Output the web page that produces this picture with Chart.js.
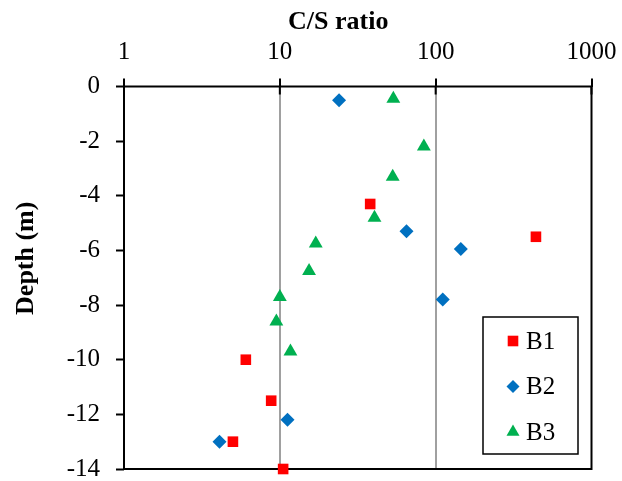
<!DOCTYPE html>
<html>
<head>
<meta charset="utf-8">
<script src="https://cdn.jsdelivr.net/npm/chart.js@4.4.1/dist/chart.umd.min.js"></script>
<style>
html,body{margin:0;padding:0;background:#fff;}
#wrap{width:622px;height:481px;}
</style>
</head>
<body>
<div id="wrap"><canvas id="c" width="622" height="481"></canvas></div>
<script>
// ---- data ----
const seriesNames = ['B1', 'B2', 'B3'];
const b1Ratio = [38, 440, 6.05, 8.8, 5.0, 10.5];
const b1Depth = [-4.3, -5.5, -10.0, -11.5, -13.0, -14.0];
const b2Ratio = [24, 65, 145, 111, 11.2, 4.1];
const b2Depth = [-0.5, -5.3, -5.95, -7.8, -12.2, -13.0];
const b3Ratio = [53.5, 84, 53, 40.5, 17, 15.4, 10, 9.5, 11.7];
const b3Depth = [-0.45, -2.2, -3.3, -4.8, -5.75, -6.75, -7.7, -8.6, -9.7];
const xTickValues = [1, 10, 100, 1000];
const yTickValues = [0, -2, -4, -6, -8, -10, -12, -14];
const xTitle = 'C/S ratio';
const yTitle = 'Depth (m)';

const colors = ['#FF0000', '#0070C0', '#00B050'];
const styles = ['rect', 'rectRot', 'triangle'];
const radii = [7.5, 7, 8];

function pts(xs, ys) { return xs.map((x, i) => ({x: x, y: ys[i]})); }
const allSeries = [pts(b1Ratio, b1Depth), pts(b2Ratio, b2Depth), pts(b3Ratio, b3Depth)];

const FONT = "'Liberation Serif', 'Times New Roman', serif";
const TICK_SIZE = 25;
const TITLE_SIZE = 26;
const NB6 = '\u00A0\u00A0\u00A0\u00A0\u00A0\u00A0';

const framePlugin = {
  id: 'frame',
  beforeDatasetsDraw(chart) {
    const {ctx, chartArea: a} = chart;
    ctx.save();
    ctx.strokeStyle = '#000';
    ctx.lineWidth = 2;
    ctx.strokeRect(a.left, a.top, a.right - a.left, a.bottom - a.top);
    // inner tick marks on the top axis
    const xs = chart.scales.x;
    ctx.beginPath();
    xTickValues.forEach(v => {
      const px = xs.getPixelForValue(v);
      ctx.moveTo(px, a.top);
      ctx.lineTo(px, a.top + 8);
    });
    ctx.stroke();
    ctx.restore();
  }
};

function drawMarker(ctx, style, x, y, r, color) {
  ctx.fillStyle = color;
  ctx.beginPath();
  if (style === 'rect') {
    const s = r * Math.SQRT1_2;
    ctx.rect(x - s, y - s, 2 * s, 2 * s);
  } else if (style === 'rectRot') {
    ctx.moveTo(x, y - r); ctx.lineTo(x + r, y); ctx.lineTo(x, y + r); ctx.lineTo(x - r, y);
    ctx.closePath();
  } else {
    const h = r * 0.866;
    ctx.moveTo(x, y - r); ctx.lineTo(x + h, y + r / 2); ctx.lineTo(x - h, y + r / 2);
    ctx.closePath();
  }
  ctx.fill();
}

const legendPlugin = {
  id: 'boxLegend',
  afterDraw(chart) {
    const {ctx} = chart;
    const bx = 483, by = 317, bw = 95, bh = 137;
    ctx.save();
    ctx.fillStyle = '#fff';
    ctx.fillRect(bx, by, bw, bh);
    ctx.strokeStyle = '#000';
    ctx.lineWidth = 1.5;
    ctx.strokeRect(bx, by, bw, bh);
    ctx.font = TICK_SIZE + 'px ' + FONT;
    ctx.textBaseline = 'middle';
    chart.data.datasets.forEach((ds, i) => {
      const cy = by + 24 + i * 45.5;
      drawMarker(ctx, ds.pointStyle, 513, cy, i === 0 ? 7.5 : (i === 1 ? 6.5 : 7.5), ds.backgroundColor);
      ctx.fillStyle = '#000';
      ctx.fillText(ds.label, 526, cy + 1);
    });
    ctx.restore();
  }
};

new Chart(document.getElementById('c'), {
  type: 'scatter',
  data: {
    datasets: allSeries.map((d, i) => ({
      label: seriesNames[i],
      data: d,
      pointStyle: styles[i],
      pointRadius: radii[i],
      pointHoverRadius: radii[i],
      backgroundColor: colors[i],
      borderColor: colors[i],
      borderWidth: 0,
      clip: false
    }))
  },
  options: {
    responsive: false,
    animation: false,
    layout: {padding: {left: 0, right: 30.5, top: 0, bottom: 12}},
    plugins: {legend: {display: false}, tooltip: {enabled: false}},
    scales: {
      x: {
        type: 'logarithmic',
        position: 'top',
        min: 1, max: 1000,
        afterBuildTicks(s) { s.ticks = xTickValues.map(v => ({value: v, major: true})); },
        afterFit(s) { s.height = 86.5; s.paddingLeft = 0; s.paddingRight = 0; },
        ticks: {
          color: '#000',
          font: {family: FONT, size: TICK_SIZE},
          padding: 11,
          maxRotation: 0,
          autoSkip: false,
          callback: v => String(v)
        },
        grid: {
          drawOnChartArea: true,
          color: c => (c.tick && (c.tick.value === 10 || c.tick.value === 100)) ? '#A0A0A0' : 'rgba(0,0,0,0)',
          tickColor: '#000',
          tickLength: 8,
          lineWidth: 2,
          tickWidth: 2
        },
        border: {display: false},
        title: {
          display: true,
          text: xTitle + NB6,
          color: '#000',
          font: {family: FONT, size: TITLE_SIZE, weight: 'bold'},
          padding: {top: 7, bottom: 0}
        }
      },
      y: {
        type: 'linear',
        min: -14, max: 0,
        afterBuildTicks(s) { s.ticks = yTickValues.map(v => ({value: v})); },
        afterFit(s) { s.width = 124; s.paddingTop = 0; s.paddingBottom = 0; },
        ticks: {
          color: '#000',
          font: {family: FONT, size: TICK_SIZE},
          padding: 16
        },
        grid: {
          drawOnChartArea: false,
          tickColor: '#000',
          tickLength: 8,
          tickWidth: 2
        },
        border: {display: false},
        title: {
          display: true,
          text: NB6 + yTitle,
          color: '#000',
          font: {family: FONT, size: TITLE_SIZE, weight: 'bold'},
          padding: {top: 11, bottom: 0}
        }
      }
    }
  },
  plugins: [framePlugin, legendPlugin]
});
</script>
</body>
</html>
